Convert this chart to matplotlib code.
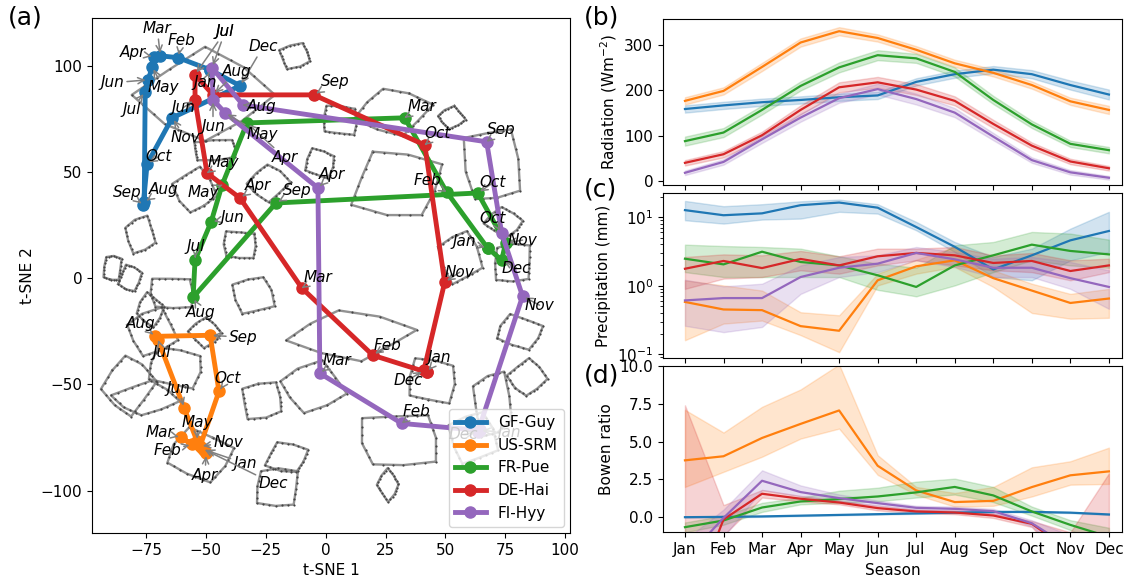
import numpy as np
import matplotlib
matplotlib.use('Agg')
import matplotlib.pyplot as plt

# ---------------- data ----------------
months = ['Jan', 'Feb', 'Mar', 'Apr', 'May', 'Jun', 'Jul', 'Aug', 'Sep', 'Oct', 'Nov', 'Dec']
sites = ['GF-Guy', 'US-SRM', 'FR-Pue', 'DE-Hai', 'FI-Hyy']
colors = ['#1f77b4', '#ff7f0e', '#2ca02c', '#d62728', '#9467bd']

# t-SNE monthly trajectories
guy_x = [-48.2, -61.5, -69.0, -71.5, -72.4, -74.0, -75.3, -75.7, -76.1, -74.5, -64.0, -35.7]
guy_y = [98.1, 103.8, 104.7, 104.2, 99.5, 93.4, 87.7, 35.8, 34.4, 53.8, 75.5, 90.6]
srm_x = [-50.7, -55.7, -60.3, -49.9, -53.6, -59.0, -69.9, -71.1, -48.2, -44.5, -52.4, -51.5]
srm_y = [-80.7, -78.3, -75.0, -82.5, -76.9, -61.3, -29.2, -27.4, -26.9, -53.3, -79.2, -80.2]
pue_x = [67.6, 50.5, 33.0, -32.8, -43.2, -47.8, -54.5, -55.3, -20.7, 63.5, 75.1, 73.5]
pue_y = [14.2, 40.6, 75.5, 73.1, 43.9, 26.4, 8.5, -9.0, 35.4, 40.1, 16.5, 8.5]
hai_x = [42.2, 19.7, -9.9, -35.7, -49.5, -54.5, -54.5, -47.0, -4.9, 41.4, 49.7, 41.0]
hai_y = [-44.3, -36.3, -4.7, 37.7, 49.5, 84.0, 95.8, 86.3, 86.3, 62.7, -1.9, -43.4]
hyy_x = [64.3, 31.8, -2.4, -3.2, -41.9, -47.0, -47.4, -34.5, 67.2, 73.5, 82.2, 63.5]
hyy_y = [-71.7, -68.4, -44.8, 42.5, 77.8, 84.0, 99.1, 81.6, 64.2, 21.2, -8.5, -72.6]

# background cell outlines (centre, width, height in t-SNE units)
poly_cx = [-50.3, -12.8, 6.0, 28.0, 52.6, 69.7, 30.1, 74.3, 56.0, 78.0, 81.0, 84.3, 69.7, 44.3,
           10.1, -5.3, 31.0, -16.1, 26.0, 61.4, -20.3, -52.4, -74.9, -26.5, -62.8, -82.4, -72.4,
           -64.0, -81.5, -50.3, -30.3, -89.0, -73.2, -54.5, -46.1, -2.4, -24.0, -77.4, -35.7]
poly_cy = [86.3, 104.7, 74.5, 78.3, 75.5, 53.3, 44.3, 26.4, 9.9, 7.1, -25.5, -46.7, -59.0, -48.1,
           -26.9, -51.4, -76.4, -84.4, -97.2, -75.0, -98.6, -83.5, -56.6, -57.5, -42.0, -50.5, -25.5,
           -7.1, 0.0, -25.5, -8.0, 4.7, -15.1, 41.5, 60.4, 54.2, 44.8, 20.3, 15.6]
poly_w = [58.3, 15.0, 17.5, 33.3, 12.5, 27.9, 42.9, 17.5, 19.2, 19.6, 21.7, 16.7, 19.6, 23.8,
          54.2, 30.4, 38.8, 19.6, 9.6, 22.1, 22.1, 30.8, 28.3, 20.8, 26.7, 22.9, 23.8,
          22.1, 10.4, 15.0, 19.6, 9.2, 12.5, 18.8, 22.9, 14.2, 17.9, 14.6, 16.7]
poly_h = [47.2, 13.2, 17.5, 24.5, 10.8, 42.5, 36.8, 14.2, 28.3, 22.2, 17.5, 18.9, 34.4, 25.5,
          25.9, 25.0, 31.6, 16.5, 15.6, 28.3, 22.2, 26.4, 17.5, 20.3, 22.2, 30.7, 23.6,
          18.9, 14.2, 14.2, 20.8, 14.2, 16.5, 23.6, 11.8, 15.6, 18.9, 18.9, 16.5]

# Radiation (W m-2)
rad_mean = {
    'GF-Guy': [159, 167, 174, 179, 185, 189, 219, 236, 246, 236, 212, 191],
    'US-SRM': [177, 199, 252, 306, 331, 316, 290, 260, 239, 212, 176, 157],
    'FR-Pue': [88, 107, 157, 210, 251, 278, 271, 241, 179, 125, 82, 68],
    'DE-Hai': [40, 59, 101, 157, 207, 218, 202, 177, 126, 78, 43, 28],
    'FI-Hyy': [18, 42, 92, 140, 183, 203, 181, 151, 98, 46, 19, 7],
}
rad_err = {
    'GF-Guy': [8, 8, 8, 8, 8, 8, 8, 8, 8, 9, 10, 11],
    'US-SRM': [8, 8, 9, 9, 9, 8, 8, 8, 8, 8, 8, 9],
    'FR-Pue': [10, 10, 10, 10, 11, 11, 10, 10, 9, 8, 7, 7],
    'DE-Hai': [6, 7, 8, 10, 11, 12, 12, 10, 9, 7, 6, 5],
    'FI-Hyy': [5, 6, 8, 9, 10, 12, 12, 10, 8, 6, 5, 4],
}
# Precipitation (mm)
pre_mean = {
    'GF-Guy': [12.7, 10.7, 11.4, 15.0, 16.4, 13.8, 7.2, 3.7, 1.73, 2.78, 4.6, 6.3],
    'US-SRM': [0.58, 0.45, 0.44, 0.257, 0.22, 1.20, 1.92, 2.35, 1.29, 0.85, 0.56, 0.65],
    'FR-Pue': [2.48, 2.05, 3.14, 2.22, 1.98, 1.42, 0.96, 1.98, 2.78, 3.98, 3.22, 2.87],
    'DE-Hai': [1.77, 2.30, 1.81, 2.46, 1.98, 2.69, 3.01, 2.78, 2.15, 2.30, 1.64, 1.98],
    'FI-Hyy': [0.61, 0.66, 0.66, 1.34, 1.83, 2.10, 3.01, 2.43, 1.83, 1.83, 1.29, 0.96],
}
pre_lo = {
    'GF-Guy': [9.04, 8.08, 9.25, 9.56, 12.0, 11.3, 6.45, 3.11, 1.34, 1.20, 2.35, 3.11],
    'US-SRM': [0.16, 0.28, 0.31, 0.19, 0.107, 1.01, 1.50, 1.88, 0.96, 0.40, 0.33, 0.34],
    'FR-Pue': [1.58, 1.34, 1.34, 1.34, 1.34, 0.87, 0.70, 1.01, 1.58, 2.35, 1.98, 1.83],
    'DE-Hai': [0.90, 1.27, 1.34, 1.68, 1.50, 1.98, 2.35, 1.98, 1.68, 1.58, 1.20, 1.58],
    'FI-Hyy': [0.26, 0.21, 0.25, 0.76, 1.34, 1.58, 2.35, 1.88, 1.34, 1.34, 0.90, 0.46],
}
pre_hi = {
    'GF-Guy': [17.3, 14.5, 15.5, 17.1, 18.1, 15.5, 8.55, 4.35, 2.63, 3.48, 6.82, 12.0],
    'US-SRM': [1.20, 1.01, 0.85, 0.41, 0.37, 1.50, 2.40, 3.68, 1.68, 1.07, 0.76, 0.90],
    'FR-Pue': [3.98, 3.80, 3.68, 3.48, 2.69, 2.10, 1.83, 3.89, 4.35, 6.10, 5.77, 4.71],
    'DE-Hai': [2.63, 2.87, 2.78, 3.22, 2.69, 3.48, 3.48, 3.68, 2.78, 3.01, 2.35, 2.48],
    'FI-Hyy': [1.22, 0.98, 1.07, 1.98, 2.63, 2.78, 3.68, 3.11, 2.48, 2.63, 2.22, 1.68],
}
# Bowen ratio
bow_mean = {
    'GF-Guy': [0.0, 0.02, 0.05, 0.1, 0.15, 0.2, 0.25, 0.3, 0.35, 0.35, 0.3, 0.18],
    'US-SRM': [3.76, 4.03, 5.24, 6.17, 7.06, 3.4, 1.77, 1.0, 1.08, 1.99, 2.77, 3.03],
    'FR-Pue': [-0.66, -0.22, 0.64, 1.04, 1.2, 1.37, 1.64, 2.0, 1.44, 0.38, -0.51, -1.3],
    'DE-Hai': [-6.7, -0.15, 1.55, 1.22, 0.97, 0.6, 0.38, 0.31, 0.11, -0.44, -2.2, -2.0],
    'FI-Hyy': [-2.8, -0.05, 2.41, 1.66, 1.26, 0.93, 0.62, 0.55, 0.4, -0.4, -2.0, -2.5],
}
bow_lo = {
    'GF-Guy': [-0.03, -0.01, 0.02, 0.07, 0.12, 0.17, 0.22, 0.27, 0.32, 0.32, 0.27, 0.15],
    'US-SRM': [2.0, 3.0, 4.0, 5.2, 5.86, 2.8, 1.48, 0.7, 0.75, 1.37, 2.15, 2.2],
    'FR-Pue': [-1.0, -0.5, 0.35, 0.85, 0.95, 1.05, 1.3, 1.5, 1.0, 0.1, -0.85, -1.9],
    'DE-Hai': [-20.0, -1.2, 1.3, 1.05, 0.85, 0.45, 0.28, 0.2, -0.05, -0.65, -3.5, -7.0],
    'FI-Hyy': [-5.0, -1.3, 1.8, 1.4, 1.05, 0.78, 0.5, 0.42, 0.25, -0.6, -3.0, -4.0],
}
bow_hi = {
    'GF-Guy': [0.03, 0.05, 0.08, 0.13, 0.18, 0.23, 0.28, 0.33, 0.38, 0.38, 0.33, 0.21],
    'US-SRM': [7.1, 5.6, 7.3, 8.45, 10.1, 4.1, 2.0, 1.6, 2.0, 3.3, 3.7, 4.6],
    'FR-Pue': [-0.35, 0.1, 0.95, 1.3, 1.75, 1.95, 2.35, 2.55, 2.0, 0.7, -0.2, -0.7],
    'DE-Hai': [7.4, 0.8, 1.8, 1.4, 1.1, 0.75, 0.5, 0.45, 0.25, -0.25, -1.0, 2.9],
    'FI-Hyy': [-1.5, 0.5, 3.1, 2.1, 1.5, 1.1, 0.75, 0.7, 0.55, -0.2, -1.2, -1.5],
}

# ---------------- layout ----------------
# month-label offsets (pixels) for the annotations in panel (a)
label_off = {
    'GF-Guy': [(-5, -13), (3, 17), (-3, 27), (-21, 4), (11, -21), (-36, -3), (-14, -18),
               (19, 13), (-16, 13), (11, 7), (13, -20), (23, 39)],
    'US-SRM': [(41, -14), (-25, -6), (-21, 5), (-1, -22), (0, 19), (-6, 20), (4, -12),
               (-15, 13), (33, -2), (9, 13), (28, 4), (71, -35)],
    'FR-Pue': [(-23, 6), (-19, 11), (17, 11), (38, -35), (-19, -8), (21, 5), (1, 14),
               (8, -15), (21, 12), (15, 10), (17, 3), (15, -8)],
    'DE-Hai': [(13, 15), (15, 10), (16, 11), (18, 13), (16, 11), (-12, -8), (30, 43),
               (24, 23), (21, 13), (13, 11), (15, 10), (-16, -10)],
    'FI-Hyy': [(30, -2), (15, 12), (17, 13), (14, 13), (37, -22), (0, -27), (13, 36),
               (19, -2), (15, 12), (-9, 15), (17, -9), (-14, -2)],
}

W, H = 1137, 580
fig = plt.figure(figsize=(W / 100, H / 100), dpi=100)
plt.rcParams['font.size'] = 11

ax = fig.add_axes([92 / W, 1 - 533 / H, (570 - 92) / W, (533 - 18) / H])

# background cells
shape = np.array([1.0, 0.78, 0.96, 0.72, 1.05, 0.82, 0.92, 0.74])
k = np.arange(8)
tt = np.array([0.0, 0.34, 0.67])
for i, (cx, cy, w, h) in enumerate(zip(poly_cx, poly_cy, poly_w, poly_h)):
    f = np.roll(shape, i)
    ang = 2 * np.pi * k / 8 + 0.35 * i
    px = cx + 0.5 * w * f * np.cos(ang)
    py = cy + 0.5 * h * f * np.sin(ang)
    px = np.append(px, px[0])
    py = np.append(py, py[0])
    ax.plot(px, py, color='#7f7f7f', lw=1.7, alpha=0.85, zorder=1)
    ex = (px[:-1, None] * (1 - tt) + px[1:, None] * tt).ravel()
    ey = (py[:-1, None] * (1 - tt) + py[1:, None] * tt).ravel()
    ax.scatter(ex, ey, s=2.5, color='#444444', zorder=1.2, linewidths=0)

traj = {
    'GF-Guy': (guy_x, guy_y), 'US-SRM': (srm_x, srm_y), 'FR-Pue': (pue_x, pue_y),
    'DE-Hai': (hai_x, hai_y), 'FI-Hyy': (hyy_x, hyy_y),
}
for s, c in zip(sites, colors):
    xs, ys = traj[s]
    ax.plot(list(xs) + [xs[0]], list(ys) + [ys[0]], color=c, lw=3.5, marker='o',
            ms=8, label=s, zorder=3)
for s in sites:
    xs, ys = traj[s]
    for m, xv, yv, off in zip(months, xs, ys, label_off[s]):
        ax.annotate(m, xy=(xv, yv), xytext=off, textcoords='offset pixels',
                    ha='center', va='center', fontsize=11, style='italic', zorder=4,
                    arrowprops=dict(arrowstyle='->', color='gray', lw=1.1,
                                    shrinkA=0, shrinkB=2))

ax.set_xlim(-97.5, 102)
ax.set_ylim(-120, 122.5)
ax.set_xlabel('t-SNE 1', fontsize=11)
ax.set_ylabel('t-SNE 2', fontsize=11)
ax.tick_params(labelsize=11)
ax.legend(loc='lower right', fontsize=11, borderaxespad=0.4)

# right panels
x = np.arange(12)
rl, rw = 663 / W, (1122 - 663) / W
axb = fig.add_axes([rl, 1 - 185 / H, rw, 166 / H])
axc = fig.add_axes([rl, 1 - 358 / H, rw, 165 / H])
axd = fig.add_axes([rl, 1 - 532.3 / H, rw, 166.3 / H])

for s, c in zip(sites, colors):
    m = np.array(rad_mean[s], float)
    e = np.array(rad_err[s], float)
    axb.fill_between(x, m - e, m + e, color=c, alpha=0.2)
    axb.plot(x, m, color=c, lw=1.6)
    axc.fill_between(x, pre_lo[s], pre_hi[s], color=c, alpha=0.2)
    axc.plot(x, pre_mean[s], color=c, lw=1.6)
    axd.fill_between(x, bow_lo[s], bow_hi[s], color=c, alpha=0.2)
    axd.plot(x, bow_mean[s], color=c, lw=1.6)

axb.set_ylim(-9, 358)
axb.set_yticks([0, 100, 200, 300])
axb.set_ylabel('Radiation (Wm$^{-2}$)', fontsize=11)
axc.set_yscale('log')
axc.set_ylim(0.088, 22.6)
axc.set_ylabel('Precipitation (mm)', fontsize=11)
axd.set_ylim(-1, 10)
axd.set_yticks([0, 2.5, 5, 7.5, 10])
axd.set_yticklabels(['0.0', '2.5', '5.0', '7.5', '10.0'])
axd.set_ylabel('Bowen ratio', fontsize=11)
axd.set_xlabel('Season', fontsize=11)
for a in (axb, axc, axd):
    a.set_xlim(-0.57, 11.34)
    a.set_xticks(x)
    a.tick_params(labelsize=11)
axb.set_xticklabels([])
axc.set_xticklabels([])
axd.set_xticklabels(months)

fig.text(8 / W, 1 - 18 / H, '(a)', fontsize=18, va='center', ha='left')
fig.text(584 / W, 1 - 18 / H, '(b)', fontsize=18, va='center', ha='left')
fig.text(584 / W, 1 - 190 / H, '(c)', fontsize=18, va='center', ha='left')
fig.text(584 / W, 1 - 376 / H, '(d)', fontsize=18, va='center', ha='left')

fig.savefig('out.png', dpi=100)
